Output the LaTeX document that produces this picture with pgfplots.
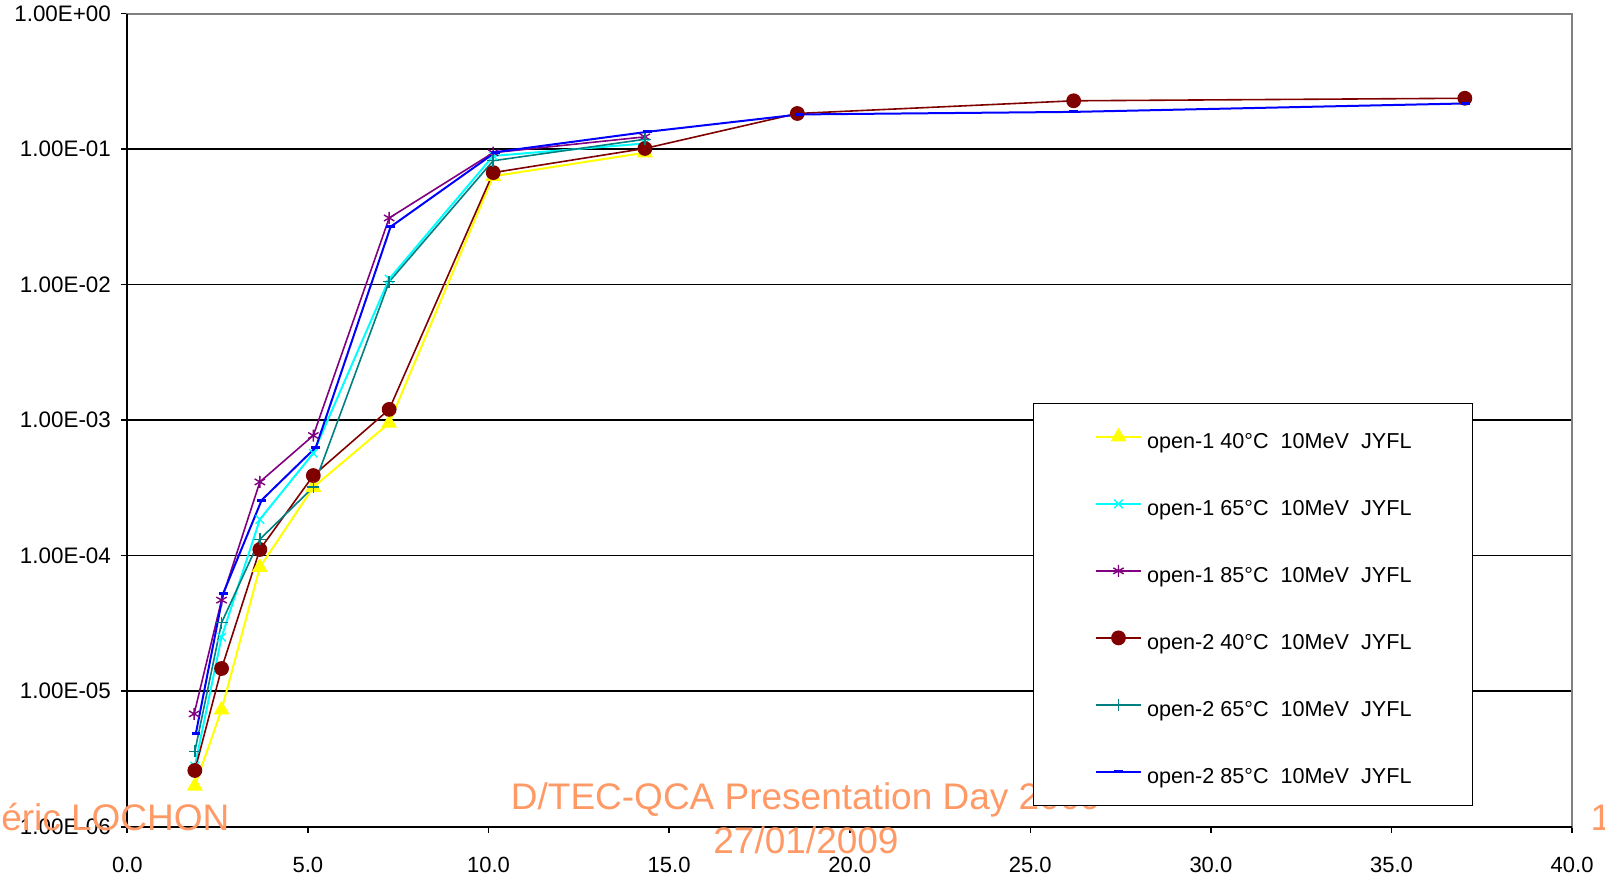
\documentclass[border=0pt]{standalone}
\usepackage{fontspec}
\setmainfont{Liberation Sans}
\usepackage{pgfplots}
\pgfplotsset{compat=1.18}
\definecolor{cYel}{HTML}{FFFF00}
\definecolor{cCya}{HTML}{00FFFF}
\definecolor{cPur}{HTML}{800080}
\definecolor{cBro}{HTML}{800000}
\definecolor{cTea}{HTML}{008080}
\definecolor{cBlu}{HTML}{0000FF}
\definecolor{cWm}{HTML}{FF9966}
\begin{document}
\begin{tikzpicture}
\useasboundingbox (-63.65pt,-24.15pt) rectangle (738.85pt,413.35pt);
\begin{axis}[
  at={(0pt,0pt)}, anchor=south west,
  scale only axis, width=722.4pt, height=406.6pt,
  xmin=0, xmax=40, ymode=log, ymin=1e-6, ymax=1,
  xtick={0,5,10,15,20,25,30,35,40},
  xticklabels={0.0,5.0,10.0,15.0,20.0,25.0,30.0,35.0,40.0},
  ytick={1e-6,1e-5,1e-4,1e-3,1e-2,1e-1,1},
  yticklabels={1.00E-06,1.00E-05,1.00E-04,1.00E-03,1.00E-02,1.00E-01,1.00E+00},
  yminorticks=false, xminorticks=false,
  ymajorgrids, grid style={black, line width=0.75pt},
  axis line style={draw=gray, line width=1pt},
  tick align=outside, major tick length=3pt, tick style={black, line width=0.8pt},
  xtick pos=bottom, ytick pos=left,
  tick label style={font=\fontsize{11}{12}\selectfont, inner sep=0pt},
  xticklabel style={anchor=north, yshift=-12pt},
  yticklabel style={anchor=east, xshift=-5pt, font=\fontsize{11.2}{12}\selectfont},
  clip=false,
  legend cell align=left,
  legend style={at={(axis description cs:0.627,0.0255)}, anchor=south west,
    draw=black, line width=0.6pt, fill=white, inner xsep=30.5pt, inner ysep=0pt,
    row sep=0pt, column sep=2.5pt, font=\fontsize{10.8}{12}\selectfont,
    nodes={inner sep=0pt, minimum height=33.5pt, text height=13.2pt}},
  legend image code/.code={\draw[mark repeat=2,mark phase=2,#1] plot coordinates {(0pt,0pt) (11.35pt,0pt) (22.7pt,0pt)};},
]
\addplot[cYel, line width=1pt, mark=triangle*, mark size=3.6pt, mark options={solid}] coordinates {
 (1.87,2.0e-6) (2.61,7.3e-6) (3.67,8.2e-5) (5.15,3.2e-4) (7.25,9.5e-4) (10.13,6.3e-2) (14.33,9.4e-2)};
\addlegendentry{open-1 40°C\ \ 10MeV\ \ JYFL}
\addplot[cCya, line width=1pt, mark=x, mark size=3pt, mark options={solid, line width=0.7pt}] coordinates {
 (1.87,2.8e-6) (2.61,2.5e-5) (3.67,1.85e-4) (5.15,5.7e-4) (7.25,1.1e-2) (10.13,8.9e-2) (14.33,1.10e-1)};
\addlegendentry{open-1 65°C\ \ 10MeV\ \ JYFL}
\addplot[cPur, line width=0.8pt, mark=asterisk, mark size=3pt, mark options={solid, line width=0.7pt}] coordinates {
 (1.85,6.8e-6) (2.61,4.7e-5) (3.67,3.5e-4) (5.15,7.7e-4) (7.25,3.1e-2) (10.13,9.4e-2) (14.33,1.23e-1)};
\addlegendentry{open-1 85°C\ \ 10MeV\ \ JYFL}
\addplot[cBro, line width=0.8pt, mark=*, mark size=3.3pt, mark options={solid}] coordinates {
 (1.87,2.6e-6) (2.61,1.47e-5) (3.67,1.11e-4) (5.15,3.9e-4) (7.25,1.2e-3) (10.13,6.7e-2) (14.33,1.01e-1) (18.55,1.83e-1) (26.2,2.27e-1) (37.03,2.37e-1)};
\addlegendentry{open-2 40°C\ \ 10MeV\ \ JYFL}
\addplot[cTea, line width=0.8pt, mark=+, mark size=3pt, mark options={solid, line width=0.7pt}] coordinates {
 (1.87,3.6e-6) (2.61,3.2e-5) (3.67,1.32e-4) (5.15,3.2e-4) (7.25,1.05e-2) (10.13,8.2e-2) (14.33,1.18e-1)};
\addlegendentry{open-2 65°C\ \ 10MeV\ \ JYFL}
\addplot[cBlu, line width=1pt, mark=-, mark size=2.2pt, mark options={solid, line width=1.5pt}] coordinates {
 (1.90,4.9e-6) (2.66,5.3e-5) (3.72,2.57e-4) (5.22,6.3e-4) (7.29,2.67e-2) (10.2,9.5e-2) (14.4,1.34e-1) (18.6,1.80e-1) (26.2,1.88e-1) (37.05,2.17e-1)};
\addlegendentry{open-2 85°C\ \ 10MeV\ \ JYFL}
\draw[black, line width=1pt] (rel axis cs:0,1) -- (rel axis cs:0,0) -- (rel axis cs:1,0);
\node[anchor=base west, text=cWm, font=\fontsize{18.5}{20}\selectfont, inner sep=0pt] at (axis description cs:-0.0875,-0.00406) {éric LOCHON};
\node[anchor=base, text=cWm, font=\fontsize{18.5}{20}\selectfont, inner sep=0pt] at (axis description cs:0.46975,0.0214) {D/TEC-QCA Presentation Day 2009};
\node[anchor=base, text=cWm, font=\fontsize{18.5}{20}\selectfont, inner sep=0pt] at (axis description cs:0.46975,-0.0327) {27/01/2009};
\node[overlay, anchor=base west, text=cWm, font=\fontsize{18.5}{20}\selectfont, inner sep=0pt] at (axis description cs:1.0125,-0.00406) {1};
\end{axis}
\end{tikzpicture}
\end{document}
